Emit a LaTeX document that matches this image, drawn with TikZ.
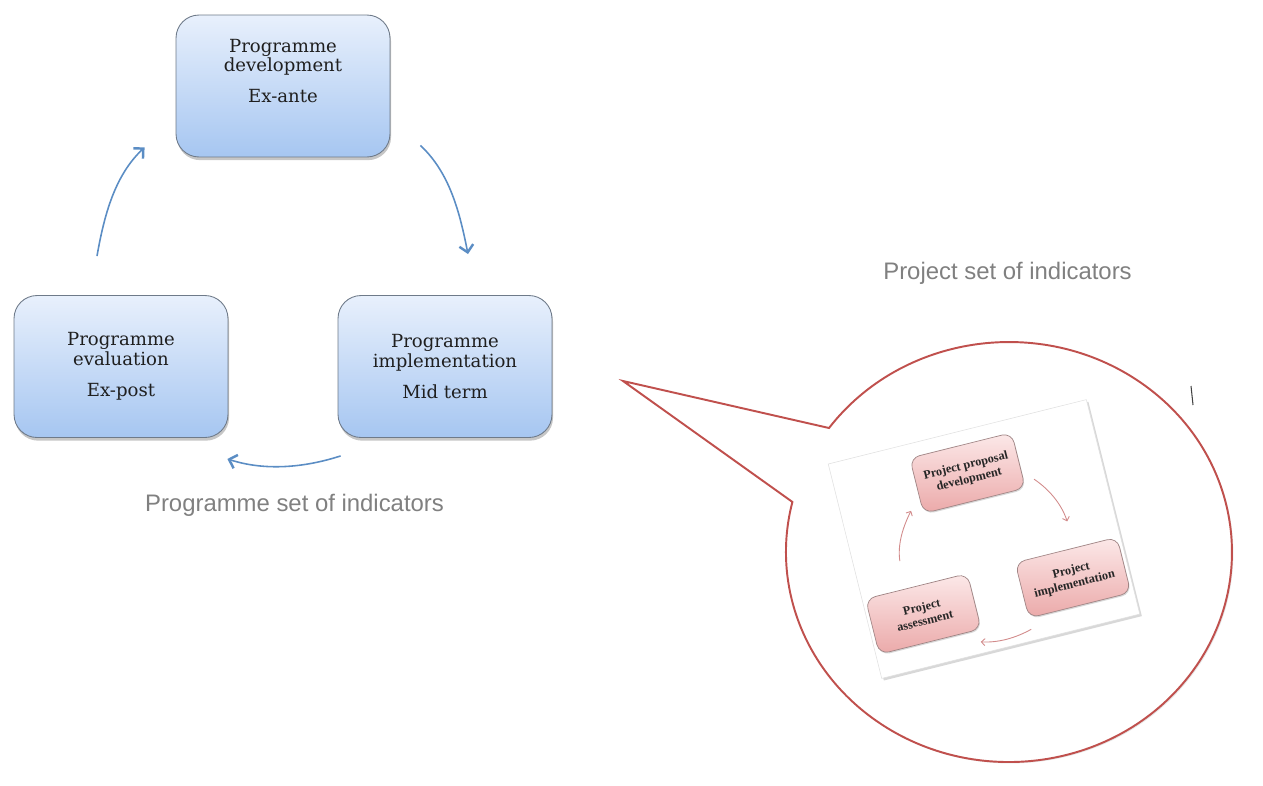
\documentclass[tikz,border=0pt]{standalone}
\usepackage{fontspec}
\newfontfamily\labelfont{Liberation Sans}
\newfontfamily\boxfont{DejaVu Serif}
\newfontfamily\projfont{Liberation Serif}
\usetikzlibrary{arrows.meta,shadows}
\definecolor{boxtop}{HTML}{E8F0FC}
\definecolor{boxbot}{HTML}{A6C6F1}
\definecolor{boxline}{HTML}{6E7A89}
\definecolor{arrblue}{HTML}{5B8DC4}
\definecolor{labelgray}{HTML}{808080}
\definecolor{bubred}{HTML}{C0504D}
\definecolor{pinktop}{HTML}{FCE9E9}
\definecolor{pinkbot}{HTML}{EBA9A9}
\definecolor{pinkline}{HTML}{A08585}
\definecolor{arrpink}{HTML}{D28B8B}

\begin{document}
\begin{tikzpicture}[x=0.02cm,y=-0.02cm,
  prog/.style={draw=boxline, line width=0.5pt, rounded corners=0.46cm,
    top color=boxtop, bottom color=boxbot,
    minimum width=4.28cm, minimum height=2.84cm,
    drop shadow={opacity=0.45, shadow xshift=0.6pt, shadow yshift=-1.8pt}},
  progtext/.style={align=center, text=black!88, font=\boxfont\fontsize{10.3}{11.3}\selectfont},
  cyc/.style={draw=arrblue, line width=0.9pt,
    -{Straight Barb[length=4pt,width=8pt,line width=1.4pt]}},
  setlabel/.style={font=\labelfont\fontsize{13.6}{16}\selectfont, text=labelgray, inner sep=0pt},
  bubble/.style={draw=bubred, line width=1.1pt, fill=white, line join=miter,
    drop shadow={opacity=0.2, shadow xshift=0.8pt, shadow yshift=-0.8pt}},
  paper/.style={draw=black!12, line width=0.3pt, fill=white,
    minimum width=5.32cm, minimum height=4.42cm,
    drop shadow={opacity=0.3, shadow xshift=1.2pt, shadow yshift=-1.2pt}},
  proj/.style={draw=pinkline, line width=0.4pt, rounded corners=0.2cm,
    top color=pinktop, bottom color=pinkbot,
    minimum width=2.1cm, minimum height=1.14cm, align=center,
    text=black!85, font=\projfont\fontsize{7}{8}\selectfont\bfseries,
    drop shadow={opacity=0.3, shadow xshift=0.5pt, shadow yshift=-0.8pt}},
  pcyc/.style={draw=arrpink, line width=0.5pt,
    -{Straight Barb[length=2pt,width=4pt]}}]
\useasboundingbox (0,0) rectangle (1263,785);

% programme cycle
\node[prog] (dev) at (283,86) {};
\node[prog] (eval) at (121,366.5) {};
\node[prog] (impl) at (445,366.5) {};
\node[progtext] (dev-txt) at ([yshift=0.3cm]dev.center) {Programme\\development\\[6.3pt]Ex-ante};
\node[progtext] (eval-txt) at (eval.center) {Programme\\evaluation\\[6.3pt]Ex-post};
\node[progtext] (impl-txt) at (impl.center) {Programme\\implementation\\[6.3pt]Mid term};

\draw[cyc] ([shift={(30,-12)}]dev.south east) .. controls +(30,28) and +(-8,-40) .. ([shift={(23,-41)}]impl.north);
\draw[cyc] ([shift={(3,18)}]impl.south west) .. controls +(-37,12) and +(37,12) .. ([shift={(-1,21)}]eval.south east);
\draw[cyc] ([shift={(-24,-39)}]eval.north) .. controls +(7,-40) and +(-30,28) .. ([shift={(-31,-10)}]dev.south west);

\node[setlabel, anchor=base] (prog-set) at (294.5,511) {Programme set of indicators};
\node[setlabel, anchor=base] (proj-set) at (1007.5,279) {Project set of indicators};

% callout with the project cycle
\coordinate (tip) at (623,381);
\coordinate (bub-up) at (829,428);
\draw[bubble] (tip) -- (bub-up) arc[start angle=216.2, end angle=553.8, x radius=223, y radius=210] -- cycle;
\draw[black!75, line width=0.6pt] (1191,386) -- (1193,405);

\begin{scope}[shift={(984,539)}, rotate=14, transform shape]
\node[paper] (paper) at (0,0) {};
\node[proj] (pdev) at (0,-68) {Project proposal\\development};
\node[proj] (pimp) at (77,59) {Project\\implementation};
\node[proj] (pass) at (-77,58) {Project\\assessment};
\coordinate (pa1) at (63,-46);
\coordinate (pa2) at (85,3);
\coordinate (pb1) at (24,99);
\coordinate (pb2) at (-28,99);
\coordinate (pc1) at (-87,1);
\coordinate (pc2) at (-64,-45);
\draw[pcyc] (pa1) .. controls +(12.4,13.9) and +(-1.5,-18.5) .. (pa2);
\draw[pcyc] (pb1) .. controls +(-17,4.6) and +(17,5.3) .. (pb2);
\draw[pcyc] (pc1) .. controls +(1.8,-17.4) and +(-11.4,13.3) .. (pc2);
\end{scope}
\end{tikzpicture}
\end{document}
